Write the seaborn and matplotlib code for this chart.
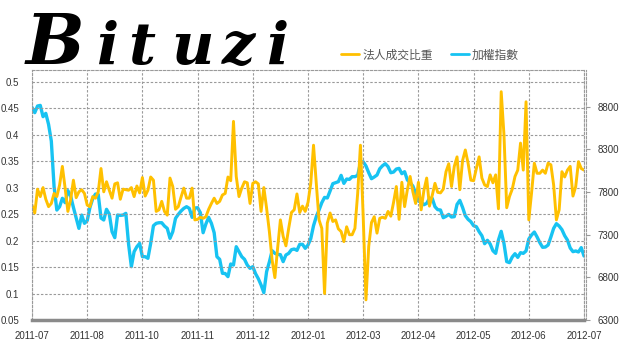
import numpy as np
import pandas as pd
import matplotlib
matplotlib.use("Agg")
import matplotlib.pyplot as plt
import seaborn as sns

# Month labels shown every 20 trading days
month_labels = ["2011-07", "2011-08", "2011-10", "2011-11", "2011-12", "2012-01",
                "2012-03", "2012-04", "2012-05", "2012-06", "2012-07"]

# Institutional share of turnover (left axis)
inst_ratio = [
    0.267, 0.252, 0.297, 0.283, 0.300, 0.278, 0.264, 0.270, 0.289, 0.283,
    0.305, 0.340, 0.299, 0.255, 0.277, 0.314, 0.281, 0.292, 0.296, 0.289,
    0.267, 0.264, 0.283, 0.280, 0.292, 0.336, 0.292, 0.311, 0.295, 0.280,
    0.307, 0.309, 0.278, 0.297, 0.296, 0.295, 0.300, 0.283, 0.303, 0.290,
    0.319, 0.284, 0.295, 0.320, 0.314, 0.255, 0.258, 0.274, 0.255, 0.248,
    0.318, 0.302, 0.259, 0.264, 0.282, 0.299, 0.280, 0.280, 0.299, 0.239,
    0.240, 0.244, 0.242, 0.245, 0.259, 0.270, 0.280, 0.270, 0.274, 0.286,
    0.289, 0.320, 0.313, 0.425, 0.321, 0.283, 0.299, 0.311, 0.309, 0.270,
    0.308, 0.311, 0.307, 0.255, 0.300, 0.261, 0.217, 0.163, 0.130, 0.186,
    0.239, 0.208, 0.190, 0.223, 0.253, 0.258, 0.288, 0.253, 0.265, 0.255,
    0.272, 0.308, 0.380, 0.308, 0.239, 0.223, 0.100, 0.233, 0.252, 0.236,
    0.239, 0.222, 0.217, 0.198, 0.226, 0.211, 0.211, 0.223, 0.289, 0.380,
    0.245, 0.088, 0.189, 0.234, 0.245, 0.214, 0.242, 0.244, 0.242, 0.255,
    0.246, 0.272, 0.302, 0.240, 0.310, 0.264, 0.296, 0.321, 0.292, 0.270,
    0.310, 0.258, 0.295, 0.318, 0.265, 0.285, 0.308, 0.291, 0.290, 0.297,
    0.330, 0.345, 0.302, 0.340, 0.358, 0.296, 0.351, 0.371, 0.346, 0.314,
    0.313, 0.336, 0.358, 0.318, 0.305, 0.302, 0.324, 0.309, 0.324, 0.260,
    0.481, 0.400, 0.262, 0.283, 0.297, 0.321, 0.333, 0.384, 0.333, 0.462,
    0.239, 0.290, 0.346, 0.327, 0.327, 0.333, 0.327, 0.346, 0.343, 0.305,
    0.239, 0.258, 0.330, 0.320, 0.333, 0.340, 0.284, 0.302, 0.349, 0.336,
    0.333,
]

# Weighted stock index (right axis)
taiex = [
    8792, 8730, 8808, 8815, 8683, 8722, 8593, 8397, 7862, 7589,
    7628, 7726, 7675, 7816, 7753, 7620, 7495, 7374, 7530, 7433,
    7464, 7620, 7722, 7776, 7772, 7495, 7472, 7597, 7542, 7335,
    7265, 7530, 7526, 7530, 7550, 7187, 6925, 7101, 7159, 7198,
    7042, 7042, 7023, 7198, 7405, 7433, 7440, 7440, 7401, 7374,
    7257, 7335, 7491, 7538, 7577, 7608, 7628, 7608, 7503, 7612,
    7616, 7558, 7323, 7425, 7503, 7433, 7323, 7042, 7011, 6847,
    6845, 6808, 6956, 6944, 7159, 7101, 7042, 7011, 6944, 6905,
    6925, 6843, 6784, 6710, 6620, 6866, 6980, 7112, 7081, 7069,
    7066, 6984, 7062, 7081, 7124, 7132, 7116, 7187, 7187, 7140,
    7179, 7253, 7405, 7511, 7589, 7675, 7737, 7730, 7812, 7898,
    7909, 7921, 7995, 7901, 7952, 7948, 7980, 7980, 7995, 8140,
    8155, 8105, 8026, 7956, 7976, 7999, 8073, 8108, 8132, 8097,
    8026, 8034, 8069, 8077, 8015, 8038, 7941, 7909, 7870, 7788,
    7694, 7683, 7651, 7667, 7726, 7726, 7628, 7593, 7589, 7499,
    7515, 7538, 7507, 7511, 7655, 7702, 7620, 7523, 7480, 7452,
    7405, 7394, 7335, 7288, 7194, 7234, 7191, 7112, 7081, 7237,
    7339, 7198, 6984, 6972, 7038, 7077, 7034, 7089, 7081, 7109,
    7249, 7296, 7331, 7273, 7206, 7152, 7155, 7179, 7273, 7374,
    7429, 7401, 7359, 7288, 7237, 7144, 7101, 7109, 7097, 7148,
    7050,
]

left_ticks = [0.05, 0.1, 0.15, 0.2, 0.25, 0.3, 0.35, 0.4, 0.45, 0.5]
right_ticks = [6300, 6800, 7300, 7800, 8300, 8800]
label_step = 20

GOLD = "#FFC000"
BLUE = "#17C3F2"
GRID = "#9a9a9a"
TEXT = "#333333"

sns.set_theme(style="white")
plt.rcParams["font.family"] = ["Liberation Sans", "Noto Sans CJK TC", "DejaVu Sans"]

df = pd.DataFrame({
    "day": np.arange(len(inst_ratio)),
    "ratio": inst_ratio,
    "taiex": taiex,
})

W, H = 620, 345
fig = plt.figure(figsize=(W / 100, H / 100), dpi=100)
fig.patch.set_facecolor("white")

L, R, T, B = 32, 584, 70, 320
ax = fig.add_axes([L / W, 1 - B / H, (R - L) / W, (B - T) / H])
ax2 = ax.twinx()

sns.lineplot(data=df, x="day", y="taiex", ax=ax2, color=BLUE, linewidth=2.4,
             label="加權指數", legend=False)
sns.lineplot(data=df, x="day", y="ratio", ax=ax, color=GOLD, linewidth=2.1,
             label="法人成交比重", legend=False)

# gold series drawn above the blue one
ax.set_zorder(ax2.get_zorder() + 1)
ax.patch.set_visible(False)

n = len(inst_ratio)
ax.set_xlim(0, n - 1)
ax.set_xticks(np.arange(0, n, label_step))
ax.set_xticklabels(month_labels)
ax.set_ylim(0.05, 0.522)
ax.set_yticks(left_ticks)
ax.set_yticklabels([f"{t:g}" for t in left_ticks])
ax2.set_ylim(6300, 9230)
ax2.set_yticks(right_ticks)

ax.set_xlabel("")
ax.set_ylabel("")
ax2.set_ylabel("")

ax.grid(True, which="major", axis="both", color=GRID, linestyle=(0, (2.2, 1.6)),
        linewidth=0.8)
ax2.grid(False)

ax.tick_params(axis="both", length=0, labelsize=7, labelcolor=TEXT)
ax.tick_params(axis="y", pad=9)
ax.tick_params(axis="x", pad=8)
ax2.tick_params(axis="y", length=3, width=0.8, color=GRID, labelsize=7,
                labelcolor=TEXT, pad=5)

for side in ("left", "top", "right"):
    ax.spines[side].set_color(GRID)
    ax.spines[side].set_linestyle((0, (2.2, 1.6)))
    ax.spines[side].set_linewidth(0.8)
ax.spines["bottom"].set_color("#8a8a8a")
ax.spines["bottom"].set_linewidth(2.5)
for side in ("left", "top", "bottom"):
    ax2.spines[side].set_visible(False)
ax2.spines["right"].set_color(GRID)
ax2.spines["right"].set_linestyle((0, (2.2, 1.6)))
ax2.spines["right"].set_linewidth(0.8)
ax2.spines["right"].set_position(("outward", 1.5))

# legend across the top right
h1, l1 = ax.get_legend_handles_labels()
h2, l2 = ax2.get_legend_handles_labels()
leg = fig.legend(h1 + h2, l1 + l2, loc="center", bbox_to_anchor=(430 / W, 1 - 55 / H),
                 ncol=2, frameon=False, handlelength=1.55,
                 handletextpad=0.25, columnspacing=1.5,
                 prop={"family": ["Noto Sans CJK TC", "DejaVu Sans"], "size": 8.5})
for t in leg.get_texts():
    t.set_color("#555555")
for line in leg.get_lines():
    line.set_linewidth(2.0)

# brush-style logo
logo_letters = ["B", "i", "t", "u", "z", "i"]
logo_x = [55, 108, 142, 193, 238, 278]
logo_size = [50, 42, 42, 42, 42, 42]
for ch, xp, fs in zip(logo_letters, logo_x, logo_size):
    fig.text(xp / W, 1 - 64 / H, ch, ha="center", va="baseline",
             fontsize=fs, fontweight="bold", fontstyle="italic",
             family="DejaVu Serif", color="black")

fig.savefig("out.png", dpi=100, facecolor="white")
